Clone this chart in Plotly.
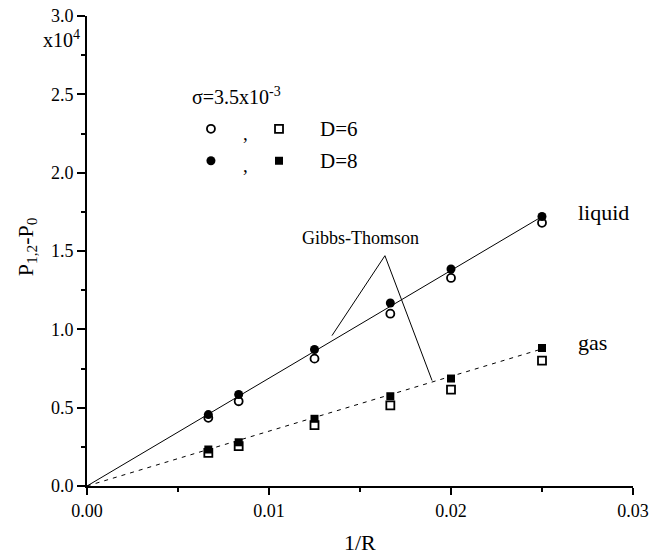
import plotly.graph_objects as go

# ---- data ----
inv_R = [1/150, 1/120, 1/80, 1/60, 1/50, 1/40]
liquid_D6 = [0.435, 0.541, 0.813, 1.10, 1.328, 1.68]
liquid_D8 = [0.456, 0.584, 0.871, 1.168, 1.385, 1.72]
gas_D6 = [0.212, 0.254, 0.388, 0.515, 0.615, 0.80]
gas_D8 = [0.233, 0.279, 0.429, 0.573, 0.686, 0.881]

fit_x = [0.0, 0.025]
liquid_fit = [0.0, 1.72]
gas_fit = [0.0, 0.875]

# Gibbs-Thomson pointer (end on liquid line, apex, end on gas line)
gt_x = [0.01346, 0.01637, 0.01896]
gt_y = [0.96, 1.47, 0.673]

x_ticks = [0.0, 0.01, 0.02, 0.03]
y_ticks = [0.0, 0.5, 1.0, 1.5, 2.0, 2.5, 3.0]

FONT = "Liberation Serif"
BLACK = "black"

fig = go.Figure()

fig.add_trace(go.Scatter(x=fit_x, y=liquid_fit, mode="lines",
                         line=dict(color=BLACK, width=1), showlegend=False))
fig.add_trace(go.Scatter(x=fit_x, y=gas_fit, mode="lines",
                         line=dict(color=BLACK, width=1, dash="4px,5px"), showlegend=False))
fig.add_trace(go.Scatter(x=gt_x, y=gt_y, mode="lines",
                         line=dict(color=BLACK, width=1), showlegend=False))

open_c = dict(symbol="circle-open", size=8, color=BLACK, line=dict(width=1.8, color=BLACK))
fill_c = dict(symbol="circle", size=9, color=BLACK)
open_s = dict(symbol="square-open", size=8, color=BLACK, line=dict(width=1.8, color=BLACK))
fill_s = dict(symbol="square", size=8, color=BLACK)

fig.add_trace(go.Scatter(x=inv_R, y=liquid_D6, mode="markers", name="liquid D=6", marker=open_c))
fig.add_trace(go.Scatter(x=inv_R, y=liquid_D8, mode="markers", name="liquid D=8", marker=fill_c))
fig.add_trace(go.Scatter(x=inv_R, y=gas_D6, mode="markers", name="gas D=6", marker=open_s))
fig.add_trace(go.Scatter(x=inv_R, y=gas_D8, mode="markers", name="gas D=8", marker=fill_s))

# legend symbols (drawn in data space)
leg_x = [0.00681, 0.01055]
leg_y6 = 2.28
leg_y8 = 2.076
fig.add_trace(go.Scatter(x=[leg_x[0]], y=[leg_y6], mode="markers", marker=open_c))
fig.add_trace(go.Scatter(x=[leg_x[1]], y=[leg_y6], mode="markers", marker=open_s))
fig.add_trace(go.Scatter(x=[leg_x[0]], y=[leg_y8], mode="markers", marker=fill_c))
fig.add_trace(go.Scatter(x=[leg_x[1]], y=[leg_y8], mode="markers", marker=fill_s))

ann = []
def a(x, y, text, xref="x", yref="y", size=17, xanchor="center", angle=0):
    ann.append(dict(x=x, y=y, xref=xref, yref=yref, text=text, showarrow=False,
                    font=dict(family=FONT, size=size, color=BLACK), xanchor=xanchor,
                    yanchor="middle", textangle=angle))

a(0.00566, 2.49, "σ=3.5x10<sup>-3</sup>", xanchor="left", size=20)
a(0.0087, 2.25, ",", size=19)
a(0.0087, 2.045, ",", size=19)
a(0.0127, 2.28, "D=6", xanchor="left", size=21)
a(0.0127, 2.076, "D=8", xanchor="left", size=21)
a(0.0284, 1.744, "liquid", size=22)
a(0.0278, 0.915, "gas", size=22)
a(0.0150, 1.585, "Gibbs-Thomson", size=18)
a(-0.046, 0.952, "x10<sup>4</sup>", xref="paper", yref="paper", size=20)
a(0.5, -0.12, "1/R", xref="paper", yref="paper", size=22)
a(-0.11, 0.51, "P<sub>1,2</sub>-P<sub>0</sub>", xref="paper", yref="paper", size=22, angle=-90)

fig.update_layout(
    width=651, height=556,
    margin=dict(l=87, r=18, t=16, b=70),
    plot_bgcolor="white", paper_bgcolor="white",
    annotations=ann,
    showlegend=False,
)
fig.update_xaxes(range=[0, 0.03], tickvals=x_ticks, automargin=False,
                 ticktext=[f"{v:.2f}" for v in x_ticks],
                 showgrid=False, zeroline=False, showline=True, linecolor=BLACK, linewidth=2,
                 ticks="outside", ticklen=7, tickwidth=2, tickcolor=BLACK,
                 minor=dict(tickvals=[0.005, 0.015, 0.025], ticks="outside", ticklen=4,
                            tickwidth=1.5, tickcolor=BLACK),
                 tickfont=dict(family=FONT, size=18, color=BLACK))
fig.update_yaxes(range=[0, 3.0], tickvals=y_ticks, automargin=False,
                 ticktext=[f"{v:.1f}" for v in y_ticks],
                 showgrid=False, zeroline=False, showline=True, linecolor=BLACK, linewidth=2,
                 ticks="outside", ticklen=8, tickwidth=2, tickcolor=BLACK,
                 minor=dict(tickvals=[0.25, 0.75, 1.25, 1.75, 2.25, 2.75], ticks="outside",
                            ticklen=4, tickwidth=1.5, tickcolor=BLACK),
                 tickfont=dict(family=FONT, size=18, color=BLACK))

fig.write_html("out.html", config={"displayModeBar": False},
               post_script="document.body.style.margin='0';document.body.style.overflow='hidden';")
